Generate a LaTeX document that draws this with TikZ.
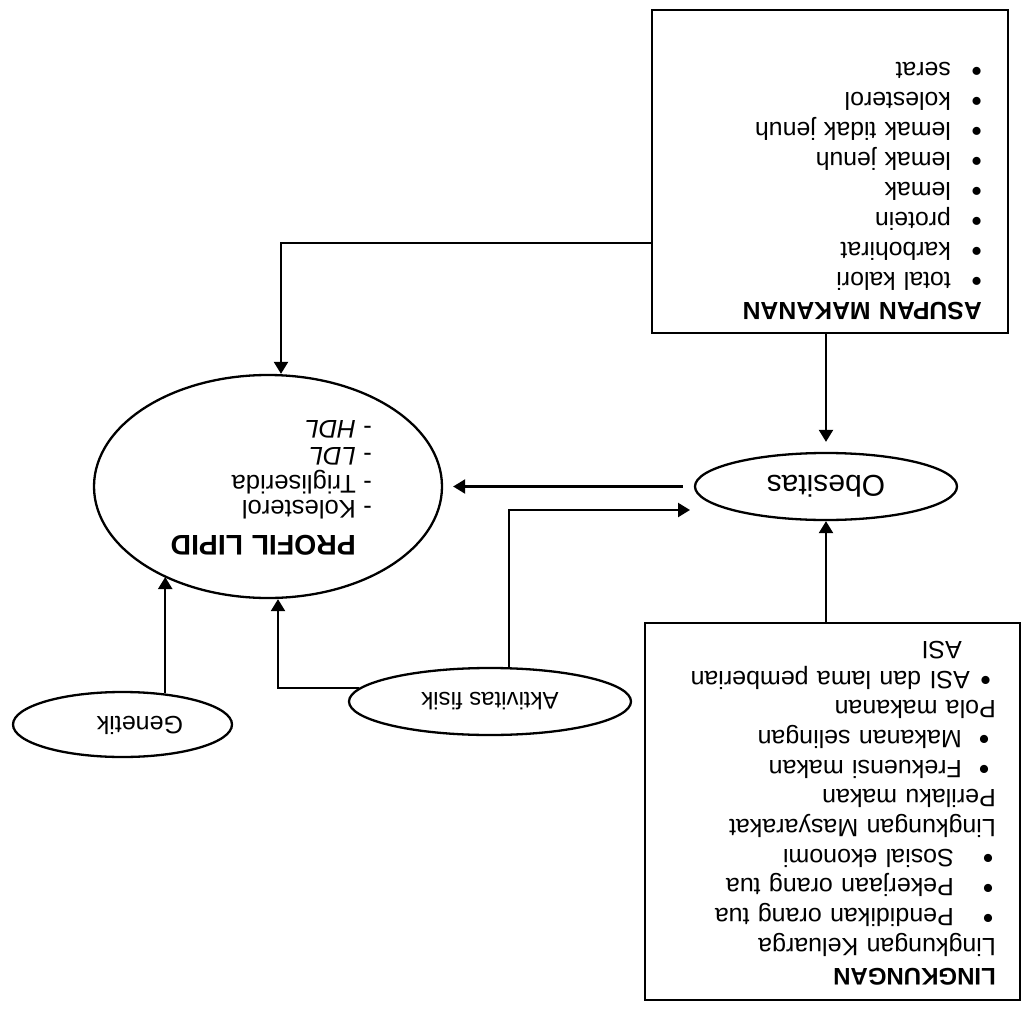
\documentclass[tikz,border=0pt]{standalone}
\usepackage{fontspec}
\setmainfont{Liberation Sans}
\usetikzlibrary{arrows.meta,shapes.geometric,calc}
\newcommand\bigbul{\raisebox{-0.3pt}{\scalebox{1.2}{\textbullet}}}
\newcommand\blt[2]{\hspace*{#1}\makebox[#2][l]{\bigbul}}
\newcommand\dsh{\leavevmode\llap{-\hspace{3.8pt}}}
\begin{document}
\begin{tikzpicture}[x=0.5pt,y=-0.5pt,
  line width=1.15pt,
  arr/.style={-{Triangle[length=6pt,width=7pt]}},
  oval/.style={draw,ellipse,inner sep=0pt},
  box/.style={draw,rectangle,inner sep=0pt},
  txt/.style={rotate=180,anchor=base west,inner sep=0pt,align=left,text width=#1},
]
\useasboundingbox (0,0) rectangle (1024,1012);

% boxes and ellipses
\node[box,minimum width=178pt,minimum height=161.5pt] (asupan) at (830,171.5) {};
\node[box,minimum width=187.5pt,minimum height=188.5pt] (ling) at (832.5,811.5) {};
\node[oval,minimum width=174pt,minimum height=111.5pt] (pl) at (268,486.5) {};
\node[oval,minimum width=131pt,minimum height=33.5pt,font=\fontsize{15}{18}\selectfont] (obes) at (826,486.5) {\rotatebox{180}{Obesitas}};
\node[oval,minimum width=141pt,minimum height=33.5pt,font=\fontsize{12}{14}\selectfont] (akt) at (490,701.5) {\rotatebox{180}{Aktivitas fisik}};
\node[oval,minimum width=109.5pt,minimum height=32.5pt] (gen) at (122.5,724.5) {};
\node[inner sep=0pt,font=\fontsize{12.5}{15}\selectfont] (gentxt) at (140,725) {\rotatebox{180}{Genetik}};

% texts
\node[txt=170pt,font=\fontsize{12.4}{15}\selectfont] (asupantxt) at (983,302)
 {{\bfseries ASUPAN MAKANAN}\\
  \blt{0pt}{15.5pt}total kalori\\
  \blt{0pt}{15.5pt}karbohirat\\
  \blt{0pt}{15.5pt}protein\\
  \blt{0pt}{15.5pt}lemak\\
  \blt{0pt}{15.5pt}lemak jenuh\\
  \blt{0pt}{15.5pt}lemak tidak jenuh\\
  \blt{0pt}{15.5pt}kolesterol\\
  \blt{0pt}{15.5pt}serat};

\node[txt=180pt,font=\fontsize{12.5}{14.85}\selectfont] (lingtxt) at (997,968)
 {{\fontsize{12}{14.85}\selectfont\bfseries LINGKUNGAN}\\
  Lingkungan Keluarga\\
  \blt{1.3pt}{19.7pt}Pendidikan orang tua\\
  \blt{1.3pt}{19.7pt}Pekerjaan orang tua\\
  \blt{1.3pt}{19.7pt}Sosial ekonomi\\
  Lingkungan Masyarakat\\
  Perilaku makan\\
  \blt{3.3pt}{13.7pt}Frekuensi makan\\
  \blt{3.3pt}{13.7pt}Makanan selingan\\
  Pola makanan\\
  \blt{2.5pt}{10.5pt}ASI dan lama pemberian\\
  \hspace*{17pt}ASI};

\node[txt=120pt,font=\fontsize{12.8}{13.5}\selectfont] (pltxt) at (357,535)
 {{\fontsize{14.2}{13.5}\selectfont\bfseries PROFIL LIPID}\\[4pt]
  \dsh Kolesterol\\[-1pt]
  \dsh Trigliserida\\[0.5pt]
  \dsh\textit{LDL}\\
  \dsh\textit{HDL}};

% connectors
\coordinate (k1) at (281,243);
\draw[arr] (asupan.west |- k1) -- (k1) -- (k1 |- pl.north);
\draw[arr,shorten >=5pt] (asupan.south -| obes.north) -- (obes.north);
\draw[arr,shorten <=5.5pt,shorten >=5pt] (obes.west) -- (obes.west -| pl.east);
\coordinate (k2) at (509,510);
\coordinate (k3) at (690,510);
\draw[arr] (akt.north -| k2) -- (k2) -- (k3);
\coordinate (k4) at (278,689);
\draw[arr] (akt.174.5) -| (k4 |- pl.south);
\draw[arr] (gen.36) -- (gen.36 |- pl.221);
\draw[arr] (ling.north -| obes.south) -- (obes.south);
\end{tikzpicture}
\end{document}
